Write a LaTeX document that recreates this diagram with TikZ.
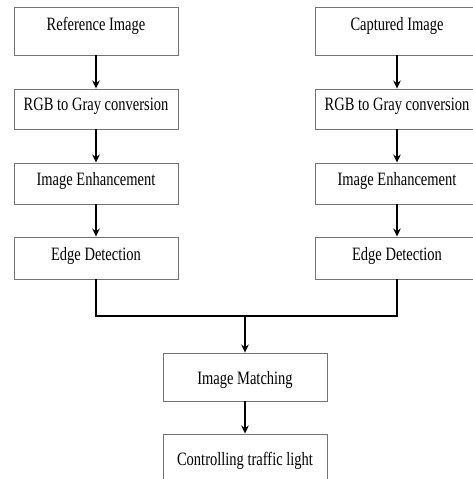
\documentclass[tikz,border=0pt]{standalone}
\usepackage{fontspec}
\usepackage{graphicx}
\setmainfont{Liberation Serif}
\usetikzlibrary{arrows.meta}
\newcommand{\tallt}[1]{\scalebox{1}[1.3]{#1}}
\begin{document}
\begin{tikzpicture}[x=1pt,y=-1pt,
  box/.style={draw=black!55, line width=0.9pt, minimum width=164pt, inner xsep=0pt, inner ysep=0pt,
    font=\fontsize{14.5}{16}\selectfont},
  arr/.style={line width=1.6pt, -{Stealth[length=8pt,width=7.5pt]}},
  lin/.style={line width=1.6pt}]
\useasboundingbox (0,0) rectangle (473,479);
\clip (0,0) rectangle (473,479);
% left column
\node[box, text height=23.5pt, text depth=24.5pt] (l1) at (96,31) {\tallt{Reference Image}};
\node[box, text height=21pt, text depth=19pt] (l2) at (96,109) {\tallt{RGB to Gray conversion}};
\node[box, text height=22.5pt, text depth=18.5pt] (l3) at (96,183.5) {\tallt{Image Enhancement}};
\node[box, text height=23.5pt, text depth=18.5pt] (l4) at (96,258) {\tallt{Edge Detection}};
% right column
\node[box, text height=23.5pt, text depth=24.5pt] (r1) at (397,31) {\tallt{Captured Image}};
\node[box, text height=21pt, text depth=19pt] (r2) at (397,109) {\tallt{RGB to Gray conversion}};
\node[box, text height=22.5pt, text depth=18.5pt] (r3) at (397,183.5) {\tallt{Image Enhancement}};
\node[box, text height=23.5pt, text depth=18.5pt] (r4) at (397,258) {\tallt{Edge Detection}};
% bottom
\node[box, text height=31pt, text depth=17pt] (m) at (245,377) {\tallt{Image Matching}};
\node[box, text height=31pt, text depth=29pt] (c) at (245,464) {\tallt{Controlling traffic light}};
% connectors
\draw[arr] (l1) -- (l2);
\draw[arr] (l2) -- (l3);
\draw[arr] (l3) -- (l4);
\draw[arr] (r1) -- (r2);
\draw[arr] (r2) -- (r3);
\draw[arr] (r3) -- (r4);
\coordinate (jl) at (96,316);
\coordinate (jr) at (397,316);
\coordinate (jm) at (245,316);
\draw[lin] (l4.south) -- (jl) -- (jr) -- (r4.south);
\draw[arr] (jm) -- (m);
\draw[arr] (m) -- (c);
\end{tikzpicture}
\end{document}
